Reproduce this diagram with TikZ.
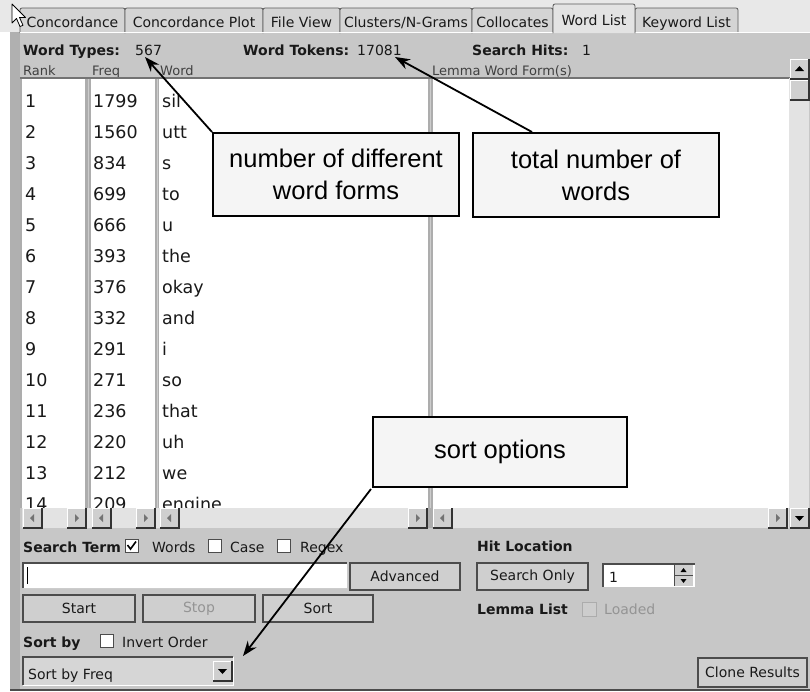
\documentclass[tikz,border=0pt]{standalone}
\usepackage{fontspec}
\newfontfamily\ui{DejaVu Sans}
\newfontfamily\callf{Liberation Sans}
\usetikzlibrary{arrows.meta,calc}
\definecolor{panel}{gray}{0.78}
\definecolor{topbg}{gray}{0.91}
\definecolor{tabfill}{gray}{0.83}
\definecolor{tabsel}{gray}{0.89}
\definecolor{track}{gray}{0.89}
\definecolor{sepc}{gray}{0.68}
\definecolor{btnfill}{gray}{0.81}
\definecolor{combofill}{gray}{0.84}
\definecolor{boxfill}{gray}{0.96}
\definecolor{dimtxt}{gray}{0.58}
\definecolor{edge}{gray}{0.30}
\tikzset{
  uitext/.style={inner sep=0pt, anchor=base west, font=\ui\fontsize{14}{16}\selectfont, text=black!90},
  uibold/.style={uitext, font=\ui\bfseries\fontsize{14}{16}\selectfont},
  headtext/.style={inner sep=0pt, anchor=base west, font=\ui\fontsize{13}{15}\selectfont, text=black!75},
  listtext/.style={inner sep=0pt, anchor=base west, font=\ui\fontsize{17.5}{20}\selectfont, text=black!90},
  tabtext/.style={inner sep=0pt, anchor=base, font=\ui\fontsize{14}{16}\selectfont, text=black!90},
  tabshape/.style={draw=gray!70!black, line width=0.8pt, fill=tabfill, rounded corners=2pt},
  btn/.style={draw=edge, line width=1.4pt, fill=btnfill, inner sep=0pt, font=\ui\fontsize{14}{16}\selectfont, text=black!90},
  callout/.style={draw=black, line width=2pt, fill=boxfill, inner sep=0pt, align=center, font=\callf\fontsize{25.5}{32}\selectfont},
  arr/.style={draw=black, line width=1.8pt, -{Stealth[length=15pt,width=11pt]}},
  chkbox/.style={draw=edge, line width=1pt, fill=white},
}
\newcommand\sbtn[3]{% x, y, direction l/r/u/d
  \fill[btnfill] (#1,#2) rectangle ++(19,20);
  \draw[white, line width=1pt] (#1,#2+20) -- (#1,#2) -- (#1+19,#2);
  \draw[black!80, line width=1.3pt] (#1,#2+20) -- (#1+19,#2+20) -- (#1+19,#2);
  \ifx l#3\fill[black!55] (#1+7,#2+10) -- (#1+11,#2+6) -- (#1+11,#2+14) -- cycle;\fi
  \ifx r#3\fill[black!55] (#1+12,#2+10) -- (#1+8,#2+6) -- (#1+8,#2+14) -- cycle;\fi
  \ifx u#3\fill[black] (#1+9.5,#2+7) -- (#1+5,#2+12) -- (#1+14,#2+12) -- cycle;\fi
  \ifx d#3\fill[black] (#1+9.5,#2+13) -- (#1+5,#2+8) -- (#1+14,#2+8) -- cycle;\fi
}
\begin{document}
\begin{tikzpicture}[x=1pt,y=-1pt]
\useasboundingbox (0,0) rectangle (810,691);
% backgrounds
\fill[white] (0,0) rectangle (810,691);
\fill[topbg] (0,0) rectangle (810,32);
\fill[panel] (10,32) rectangle (810,691);
\fill[gray!62] (10,32) rectangle (20,691);
\draw[black!70, line width=1.5pt] (10,690) -- (810,690);
% tabs
\draw[tabshape] (20,33) -- (20,8) -- (125,8) -- (125,33);
\draw[tabshape] (125,33) -- (125,8) -- (263,8) -- (263,33);
\draw[tabshape] (263,33) -- (263,8) -- (340,8) -- (340,33);
\draw[tabshape] (340,33) -- (340,8) -- (472,8) -- (472,33);
\draw[tabshape] (472,33) -- (472,8) -- (553,8) -- (553,33);
\draw[tabshape] (635,33) -- (635,8) -- (738,8) -- (738,33);
\draw[white, line width=1pt] (20,32.5) -- (553,32.5) (635,32.5) -- (810,32.5);
\draw[tabshape, fill=tabsel] (553,33) -- (553,4) -- (635,4) -- (635,33);
\node[tabtext] (tab1) at (72.5,27) {Concordance};
\node[tabtext] (tab2) at (194,27) {Concordance Plot};
\node[tabtext] (tab3) at (301.5,27) {File View};
\node[tabtext] (tab4) at (406,27) {Clusters/N-Grams};
\node[tabtext] (tab5) at (512.5,27) {Collocates};
\node[tabtext] (tab6) at (594,25) {Word List};
\node[tabtext] (tab7) at (686.5,27) {Keyword List};
% mouse cursor
\filldraw[fill=white, draw=black, line width=0.8pt, line join=round]
  (12,4) -- (12,23) -- (16.5,18.5) -- (20,26.5) -- (23,25.3) -- (19.5,17.5) -- (25.5,17.5) -- cycle;
% header
\node[uibold] (wtl) at (23,55) {Word Types:};
\node[uitext] (wtv) at (135,55) {567};
\node[uibold] (wkl) at (243,55) {Word Tokens:};
\node[uitext] (wkv) at (357,55) {17081};
\node[uibold] (shl) at (472,55) {Search Hits:};
\node[uitext] (shv) at (582,55) {1};
\node[headtext] (hrank) at (23,75) {Rank};
\node[headtext] (hfreq) at (92,75) {Freq};
\node[headtext] (hword) at (160,75) {Word};
\node[headtext] (hlemma) at (432,75) {Lemma Word Form(s)};
% list boxes
\fill[white] (22,78) rectangle (85,508);
\fill[white] (91,78) rectangle (155,508);
\fill[white] (159,78) rectangle (428,508);
\fill[white] (433,78) rectangle (789,508);
\fill[sepc] (20,78) rectangle (22,508);
\fill[sepc] (85,78) rectangle (91,508);
\fill[sepc] (155,78) rectangle (159,508);
\fill[sepc] (428,78) rectangle (433,508);
\draw[gray!40] (88,78) -- (88,508) (157,78) -- (157,508) (430.5,78) -- (430.5,508);
\draw[black!55, line width=1.2pt] (20,78) -- (790,78);
% vertical scrollbar
\fill[track] (789,78) rectangle (809,508);
\sbtn{790}{59}{u}
\sbtn{790}{80}{x}
\sbtn{790}{508}{d}
% rows
\begin{scope}
\clip (20,78) rectangle (790,507.5);
\foreach \r/\f/\w in {1/1799/sil,2/1560/utt,3/834/s,4/699/to,5/666/u,6/393/the,7/376/okay,8/332/and,9/291/i,10/271/so,11/236/that,12/220/uh,13/212/we,14/209/engine}{
  \node[listtext] (rk\r) at (25,{107+31*(\r-1)}) {\r};
  \node[listtext] (fq\r) at (93,{107+31*(\r-1)}) {\f};
  \node[listtext] (wd\r) at (162,{107+31*(\r-1)}) {\w};
}
\end{scope}
% horizontal scrollbars
\fill[track] (22,508) rectangle (789,528);
\fill[sepc] (428,508) rectangle (433,528);
\sbtn{23}{508}{l}
\sbtn{67}{508}{r}
\sbtn{92}{508}{l}
\sbtn{136}{508}{r}
\sbtn{160}{508}{l}
\sbtn{408}{508}{r}
\sbtn{433}{508}{l}
\sbtn{768}{508}{r}
% lower panel: search term
\node[uibold] (stl) at (23,552) {Search Term};
\draw[chkbox] (125,539) rectangle ++(13,13);
\draw[black, line width=1.6pt] (127.5,545) -- (130.5,549) -- (136,541.5);
\node[uitext] (stw) at (152,552) {Words};
\draw[chkbox] (208,539) rectangle ++(13,13);
\node[uitext] (stc) at (230,552) {Case};
\draw[chkbox] (277,539) rectangle ++(13,13);
\node[uitext] (str) at (300,552) {Regex};
% text field
\fill[white] (23,563) rectangle (347,588);
\draw[edge, line width=1.4pt] (23,588) -- (23,563) -- (347,563);
\draw[gray!40, line width=1pt] (347,563) -- (347,588) -- (23,588);
\draw[black, line width=1pt] (27,567) -- (27,584);
\node[btn, minimum width=110, minimum height=27] (adv) at (405,576.5) {Advanced};
\node[btn, minimum width=112, minimum height=27] (start) at (79,608.5) {Start};
\node[btn, minimum width=112, minimum height=27, text=dimtxt] (stop) at (199,608.5) {Stop};
\node[btn, minimum width=110, minimum height=27] (sort) at (318,608.5) {Sort};
% sort by
\node[uibold] (sbl) at (23,647) {Sort by};
\draw[chkbox] (100,634) rectangle ++(13,13);
\node[uitext] (sbi) at (122,647) {Invert Order};
\fill[combofill] (23,657) rectangle (233,685);
\draw[edge, line width=1.4pt] (23,685) -- (23,657) -- (233,657);
\draw[white, line width=1pt] (233,657) -- (233,685) -- (23,685);
\node[uitext] (combo) at (28,679) {Sort by Freq};
\sbtn{213}{661}{d}
% hit location
\node[uibold] (hll) at (477,551) {Hit Location};
\node[btn, minimum width=111, minimum height=27] (sonly) at (532.5,576.5) {Search Only};
\fill[white] (603,564) rectangle (695,587);
\draw[edge, line width=1.4pt] (603,587) -- (603,564) -- (695,564);
\node[uitext] (spv) at (609,582) {1};
\fill[btnfill] (674,565) rectangle (693,586);
\draw[black!70] (674,575.5) -- (693,575.5) (674,565) -- (674,586);
\fill[black] (683.5,568) -- (680.5,572) -- (686.5,572) -- cycle;
\fill[black] (683.5,583) -- (680.5,579) -- (686.5,579) -- cycle;
\node[uibold] (lll) at (477,614) {Lemma List};
\draw[draw=gray!65, line width=1pt, fill=panel!90!white] (582,602) rectangle ++(14,14);
\node[uitext, text=dimtxt] (lld) at (604,614) {Loaded};
\node[btn, minimum width=109, minimum height=29] (clone) at (752.5,672.5) {Clone Results};
% callouts
\node[callout, minimum width=246, minimum height=83] (c1) at (336,174.5) {number of different\\word forms};
\node[callout, minimum width=246, minimum height=84] (c2) at (596,175) {total number of\\words};
\node[callout, minimum width=254, minimum height=70] (c3) at (500,452) {sort options};
\coordinate (t1) at (145,57);
\coordinate (t2) at (395,57);
\coordinate (t3) at (243,656);
\draw[arr] (c1.north west) -- (t1);
\draw[arr] ($(c2.north west)+(60,0)$) -- (t2);
\draw[arr] ($(c3.south west)+(-1,1)$) -- (t3);
\end{tikzpicture}
\end{document}
